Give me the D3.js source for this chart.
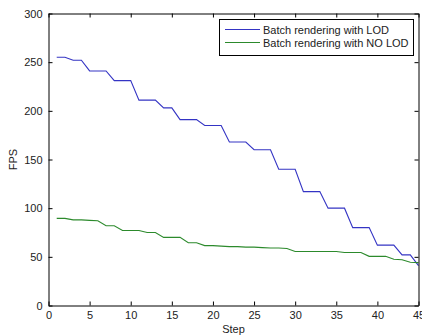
<!DOCTYPE html>
<html><head><meta charset="utf-8">
<script src="https://cdn.jsdelivr.net/npm/d3@7"></script>
<style>body{margin:0;background:#fff}svg{display:block}text{font-family:"Liberation Sans",Arial,sans-serif;fill:#222}</style>
</head><body><svg id="c" width="422" height="336"></svg>
<script>
const steps = d3.range(1, 46);
const lodFPS = [255,255,252,252,241,241,241,231,231,231,211,211,211,203,203,191,191,191,185,185,185,168,168,168,160,160,160,140,140,140,117,117,117,100,100,100,80,80,80,62,62,62,52,52,41];
const noLodFPS = [89.5,89.5,88,88,87.5,87,82,82,77,77,77,75,75,70,70,70,64.5,64.5,61.5,61.5,61,60.5,60.5,60,60,59.5,59,59,58.5,55.5,55.5,55.5,55.5,55.5,55.5,54.5,54.5,54.5,50.5,50.5,50.5,47.5,47,44.5,44];
const seriesNames = ["Batch rendering with LOD","Batch rendering with NO LOD"];
const seriesColors = ["#3434c4","#2c8a2c"];
const xTicks = [0,5,10,15,20,25,30,35,40,45];
const yTicks = [0,50,100,150,200,250,300];

const svg = d3.select("#c");
const L=48.5, R=418.5, T=13.5, B=305.5;
const x = d3.scaleLinear().domain([0,45]).range([L,R]);
const y = d3.scaleLinear().domain([0,300]).range([B,T]);

svg.append("rect").attr("x",0).attr("y",0).attr("width",422).attr("height",336).attr("fill","#fff");

const line = d3.line().x((d,i)=>x(steps[i])).y(d=>y(d));
[lodFPS,noLodFPS].forEach((s,k)=>{
  svg.append("path").datum(s).attr("d",line).attr("fill","none")
    .attr("stroke",seriesColors[k]).attr("stroke-width",1.1);
});

// axes
const fs = 11;
const gb = svg.append("g").attr("transform",`translate(0,${B})`)
  .call(d3.axisBottom(x).tickValues(xTicks).tickSizeInner(-4).tickSizeOuter(0).tickPadding(6));
const gt = svg.append("g").attr("transform",`translate(0,${T})`)
  .call(d3.axisTop(x).tickValues(xTicks).tickSizeInner(-4).tickSizeOuter(0).tickFormat(""));
const gl = svg.append("g").attr("transform",`translate(${L},0)`)
  .call(d3.axisLeft(y).tickValues(yTicks).tickSizeInner(-4).tickSizeOuter(0).tickPadding(6));
const gr = svg.append("g").attr("transform",`translate(${R},0)`)
  .call(d3.axisRight(y).tickValues(yTicks).tickSizeInner(-4).tickSizeOuter(0).tickFormat(""));
[gb,gt,gl,gr].forEach(g=>{
  g.selectAll("path.domain").attr("stroke","#000");
  g.selectAll("line").attr("stroke","#000");
  g.selectAll("text").attr("font-size",fs).attr("font-family","'Liberation Sans',Arial,sans-serif").attr("fill","#222");
});

svg.append("text").attr("x",x(22.5)).attr("y",333).attr("text-anchor","middle").attr("font-size",fs).text("Step");
svg.append("text").attr("transform",`translate(17,${(T+B)/2}) rotate(-90)`).attr("text-anchor","middle").attr("font-size",fs).text("FPS");

// legend
const lg = svg.append("g");
lg.append("rect").attr("x",219.5).attr("y",19.5).attr("width",194).attr("height",36)
  .attr("fill","#fff").attr("stroke","#000");
seriesNames.forEach((n,k)=>{
  const yy = 29.5 + k*13;
  lg.append("line").attr("x1",225).attr("x2",260).attr("y1",yy).attr("y2",yy)
    .attr("stroke",seriesColors[k]).attr("stroke-width",1.1);
  lg.append("text").attr("x",263).attr("y",yy+4).attr("font-size",fs).text(n);
});
</script></body></html>
